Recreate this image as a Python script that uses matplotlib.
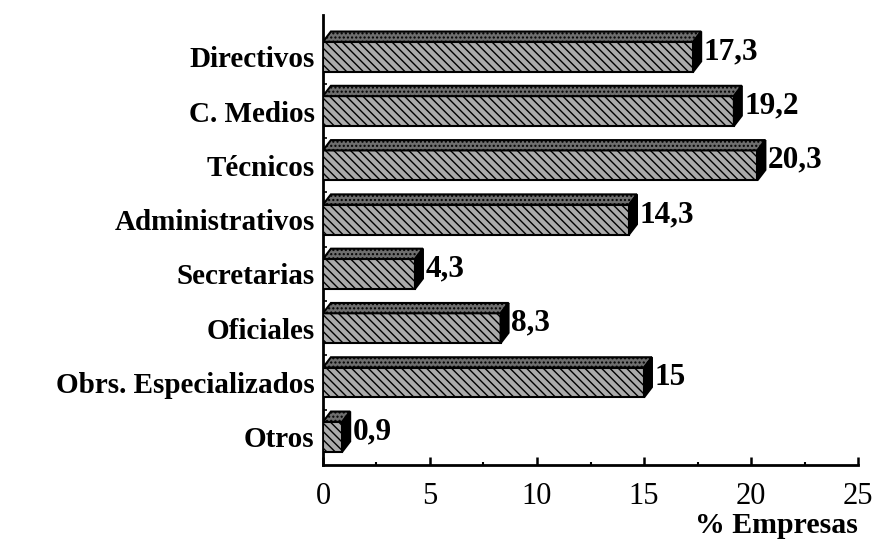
import matplotlib
matplotlib.use("Agg")
import matplotlib.pyplot as plt
import matplotlib.transforms as mtransforms
from matplotlib.patches import Polygon
from matplotlib.ticker import MultipleLocator
import numpy as np

categorias = ["Directivos", "C. Medios", "Técnicos", "Administrativos",
              "Secretarias", "Oficiales", "Obrs. Especializados", "Otros"]
valores = [17.3, 19.2, 20.3, 14.3, 4.3, 8.3, 15.0, 0.9]
ticks_x = [0, 5, 10, 15, 20, 25]
titulo_x = "% Empresas"

plt.rcParams['font.family'] = ['Liberation Serif', 'DejaVu Serif']
plt.rcParams['hatch.linewidth'] = 1.0

fig = plt.figure(figsize=(8.76, 5.54), dpi=100)
ax = fig.add_axes([0.3687, 0.1606, 0.6108, 0.8124])

y = np.arange(len(categorias))
alto = 0.55    # front face height
dx = 0.37      # 3d depth in x (data units)
dy = 0.19      # 3d depth in y

ax.barh(y, valores, height=alto, color='#ababab', edgecolor='black',
        hatch='\\\\\\\\', linewidth=1.5, zorder=3)

for yi, v in zip(y, valores):
    yt = yi - alto / 2
    yb = yi + alto / 2
    # cara superior
    top = Polygon([(0, yt), (dx, yt - dy), (v + dx, yt - dy), (v, yt)],
                  closed=True, facecolor='#6e6e6e', edgecolor='black',
                  hatch='....', linewidth=1.5, zorder=3)
    ax.add_patch(top)
    # cara lateral
    side = Polygon([(v, yt), (v + dx, yt - dy), (v + dx, yb - dy), (v, yb)],
                   closed=True, facecolor='black', edgecolor='black',
                   linewidth=1.5, zorder=4)
    ax.add_patch(side)
    txt = f"{v:g}".replace('.', ',')
    ax.text(v + dx + 0.12, yi - dy / 2, txt, ha='left', va='center',
            fontsize=22.5, fontweight='bold', zorder=5)

ax.set_xlim(0, 25)
ax.set_ylim(len(categorias) - 0.48, -0.77)
ax.set_xticks(ticks_x)
ax.set_xticklabels([str(t) for t in ticks_x], fontsize=22)
ax.xaxis.set_minor_locator(MultipleLocator(2.5))
ax.set_yticks(y)
ax.set_yticklabels(categorias, fontsize=21, fontweight='bold')
ax.set_yticks(y[:-1] + 0.5, minor=True)

# etiquetas un poco por debajo del centro de la barra, como en el original
despl = mtransforms.ScaledTranslation(0, -4 / 100, fig.dpi_scale_trans)
for lab in ax.get_yticklabels():
    lab.set_transform(lab.get_transform() + despl)

ax.tick_params(axis='x', which='major', direction='in', length=6, width=1.8, pad=12)
ax.tick_params(axis='x', which='minor', direction='in', length=2.5, width=1.5)
ax.tick_params(axis='y', which='major', length=0, pad=6)
ax.tick_params(axis='y', which='minor', direction='in', length=3, width=1.2)

for s in ['top', 'right']:
    ax.spines[s].set_visible(False)
for s in ['left', 'bottom']:
    ax.spines[s].set_linewidth(2.0)

fig.text(0.9795, 0.052, titulo_x, ha='right', va='center',
         fontsize=21.5, fontweight='bold')

fig.savefig("out.png", dpi=100)
